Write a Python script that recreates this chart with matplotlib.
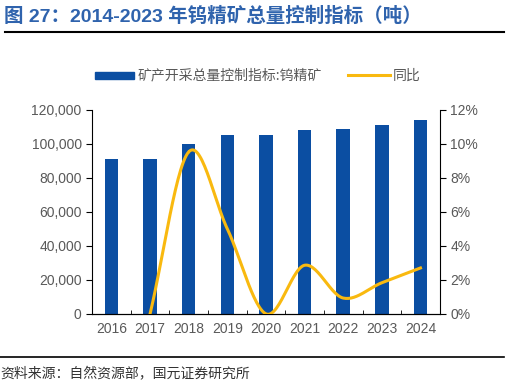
import numpy as np
import matplotlib.pyplot as plt
from matplotlib.ticker import FuncFormatter, FixedLocator

plt.rcParams['font.family'] = ['Liberation Sans', 'Noto Sans CJK SC', 'DejaVu Sans']

years = ['2016', '2017', '2018', '2019', '2020', '2021', '2022', '2023', '2024']
quota = [91300, 91300, 100000, 105000, 105000, 108000, 109000, 111000, 114000]
yoy_years = ['2017', '2018', '2019', '2020', '2021', '2022', '2023', '2024']
yoy = [0.0, 9.53, 5.0, 0.0, 2.86, 0.93, 1.83, 2.70]

bar_color = '#0B4EA2'
line_color = '#F9B90F'
txt_gray = '#595959'


def catmull_rom(x, y, n=30):
    # smoothed line like excel's "smooth line"
    x = np.asarray(x, float)
    y = np.asarray(y, float)
    px = np.concatenate([[2 * x[0] - x[1]], x, [2 * x[-1] - x[-2]]])
    py = np.concatenate([[2 * y[0] - y[1]], y, [2 * y[-1] - y[-2]]])
    xs, ys = [], []
    for i in range(1, len(px) - 2):
        t = np.linspace(0, 1, n)
        for p, out in ((px, xs), (py, ys)):
            p0, p1, p2, p3 = p[i - 1], p[i], p[i + 1], p[i + 2]
            out.append(0.5 * ((2 * p1) + (-p0 + p2) * t +
                              (2 * p0 - 5 * p1 + 4 * p2 - p3) * t ** 2 +
                              (-p0 + 3 * p1 - 3 * p2 + p3) * t ** 3))
    return np.concatenate(xs), np.concatenate(ys)


fig = plt.figure(figsize=(5.09, 3.87), dpi=100)
ax = fig.add_axes([0.181, 0.189, 0.683, 0.527])
ax2 = ax.twinx()

x = np.arange(len(years))
ax.bar(x, quota, width=0.35, color=bar_color, zorder=2)
ax.set_xlim(-0.5, len(years) - 0.5)
ax.set_ylim(0, 120000)
ax.set_yticks(np.arange(0, 120001, 20000))
ax.yaxis.set_major_formatter(FuncFormatter(lambda v, p: f'{int(v):,}'))
ax.set_xticks(x)
ax.set_xticklabels(years)
ax.xaxis.set_minor_locator(FixedLocator(np.arange(-0.5, len(years), 1)))
ax.tick_params(axis='x', which='major', length=0, pad=6, labelsize=10, colors=txt_gray)
ax.tick_params(axis='x', which='minor', length=3, direction='in', color='black')
ax.tick_params(axis='y', length=4, direction='out', labelsize=10, colors=txt_gray)
ax.tick_params(axis='y', color='black')
ax.spines['top'].set_visible(False)
ax.spines['right'].set_visible(False)

xi = np.array([years.index(y) for y in yoy_years])
sx, sy = catmull_rom(xi, yoy)
ax2.plot(sx, sy, color=line_color, lw=2.2, zorder=3)
ax2.set_ylim(0, 12)
ax2.set_yticks(np.arange(0, 13, 2))
ax2.yaxis.set_major_formatter(FuncFormatter(lambda v, p: f'{int(v)}%'))
ax2.tick_params(axis='y', length=4, direction='out', labelsize=10, labelcolor=txt_gray, color='black')
ax2.spines['top'].set_visible(False)
ax2.spines['left'].set_visible(False)

# legend
fig.patches.append(plt.Rectangle((0.187, 0.795), 0.076, 0.020, transform=fig.transFigure,
                                 color=bar_color, figure=fig))
fig.text(0.270, 0.805, '矿产开采总量控制指标:钨精矿', fontsize=10, color=txt_gray,
         va='center', family=['Noto Sans CJK SC'])
fig.add_artist(plt.Line2D([0.684, 0.766], [0.805, 0.805], color=line_color, lw=2.2,
                          transform=fig.transFigure))
fig.text(0.772, 0.805, '同比', fontsize=10, color=txt_gray, va='center',
         family=['Noto Sans CJK SC'])

# title and source
fig.text(0.008, 0.958, '图 27：2014-2023 年钨精矿总量控制指标（吨）', fontsize=14,
         fontweight='bold', color='#2F63AD', va='center',
         family=['Liberation Sans', 'Noto Sans CJK SC'])
fig.add_artist(plt.Line2D([0.01, 0.99], [0.917, 0.917], color='black', lw=1.5,
                          transform=fig.transFigure))
fig.add_artist(plt.Line2D([0.0, 0.99], [0.078, 0.078], color='black', lw=1.2,
                          transform=fig.transFigure))
fig.text(0.0, 0.032, '资料来源：自然资源部，国元证券研究所', fontsize=10, color='#333333',
         va='center', family=['Noto Sans CJK SC'])

fig.savefig('out.png', dpi=100)
